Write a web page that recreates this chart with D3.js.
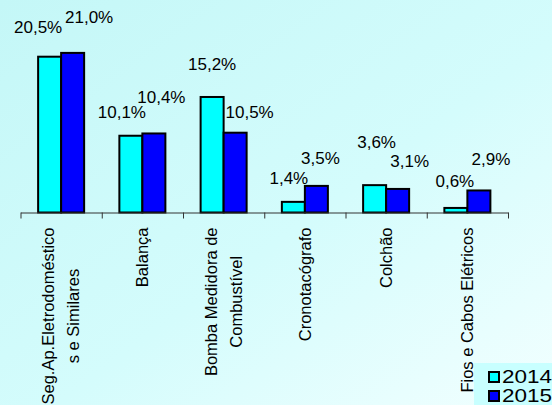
<!DOCTYPE html>
<html>
<head>
<meta charset="utf-8">
<script src="https://cdn.jsdelivr.net/npm/d3@7/dist/d3.min.js"></script>
<style>
html,body{margin:0;padding:0;overflow:hidden;}
svg{display:block;font-family:"Liberation Sans",Arial,sans-serif;}
</style>
</head>
<body>
<svg id="chart" width="552" height="405"></svg>
<script>
// ---- data ----
const categories = ["Seg.Ap.Eletrodoméstico\ns e Similares", "Balança", "Bomba Medidora de\nCombustível", "Cronotacógrafo", "Colchão", "Fios e Cabos Elétricos"];
const seriesNames = ["2014", "2015"];
const values2014 = [20.5, 10.1, 15.2, 1.4, 3.6, 0.6];
const values2015 = [21.0, 10.4, 10.5, 3.5, 3.1, 2.9];
// manual label nudges (as placed in the original chart), [dx, dy above bar top]
const labelNudge2014 = [[-11.5, 24], [-9, 18], [0, 27], [-4.5, 18], [2, 37], [-1, 21]];
const labelNudge2015 = [[16.5, 30], [7.5, 30], [14.5, 15], [4, 22], [12, 22], [12, 25]];

const colors = {"2014": "#00ffff", "2015": "#0000ff"};
const seriesValues = {"2014": values2014, "2015": values2015};
const seriesNudges = {"2014": labelNudge2014, "2015": labelNudge2015};

const W = 552, H = 405;
const svg = d3.select("#chart");

// background gradient
const defs = svg.append("defs");
const grad = defs.append("linearGradient").attr("id", "bg")
  .attr("x1", "0%").attr("y1", "0%").attr("x2", "100%").attr("y2", "100%");
grad.append("stop").attr("offset", "0%").attr("stop-color", "#c4f7f7");
grad.append("stop").attr("offset", "55%").attr("stop-color", "#d4fcfc");
grad.append("stop").attr("offset", "100%").attr("stop-color", "#f2ffff");
svg.append("rect").attr("width", W).attr("height", H).attr("fill", "url(#bg)");

// scales
const plotLeft = 20.5, plotRight = 508, baseY = 212.5;
const x0 = d3.scaleBand().domain(categories).range([plotLeft, plotRight]).paddingInner(0).paddingOuter(0);
const x1 = d3.scaleBand().domain(seriesNames).range([0, x0.bandwidth()]).paddingInner(0).paddingOuter(0.766);
const y = d3.scaleLinear().domain([0, 25]).range([baseY, baseY - 25 * 7.6]);
const xEdge = d3.scaleLinear().domain([0, categories.length]).range([plotLeft, plotRight]);

const fmt = v => d3.format(".1f")(v).replace(".", ",") + "%";

// bars
const g = svg.append("g");
seriesNames.forEach(s => {
  g.selectAll(null).data(categories.map((c, i) => ({c, i, v: seriesValues[s][i]})))
    .enter().append("rect")
    .attr("x", d => x0(d.c) + x1(s))
    .attr("y", d => y(d.v))
    .attr("width", x1.bandwidth())
    .attr("height", d => y(0) - y(d.v))
    .attr("fill", colors[s])
    .attr("stroke", "#000")
    .attr("stroke-width", 2);
});

// axis
const axis = svg.append("g").attr("transform", `translate(0,${baseY})`)
  .call(d3.axisBottom(xEdge).ticks(categories.length).tickFormat("").tickSizeInner(6).tickSizeOuter(0));
axis.select(".domain").attr("stroke", "#333").attr("stroke-width", 1);
axis.selectAll(".tick line").attr("stroke", "#333").attr("stroke-width", 1);

// value labels
seriesNames.forEach(s => {
  svg.selectAll(null).data(categories.map((c, i) => ({c, i, v: seriesValues[s][i]})))
    .enter().append("text")
    .attr("x", d => x0(d.c) + x1(s) + x1.bandwidth() / 2 + seriesNudges[s][d.i][0])
    .attr("y", d => y(d.v) - seriesNudges[s][d.i][1])
    .attr("text-anchor", "middle")
    .attr("font-size", "17px")
    .attr("fill", "#000")
    .text(d => fmt(d.v));
});

// category labels (rotated, multi-line centered)
const labelTop = baseY + 15;
const lineGap = 25;
categories.forEach(c => {
  const lines = c.split("\n");
  const cx = x0(c) + x0.bandwidth() / 2;
  const grp = svg.append("g");
  const texts = lines.map(l => grp.append("text").attr("font-size", "16.5px").attr("fill", "#000")
    .attr("text-anchor", "middle").text(l));
  const maxLen = d3.max(texts, t => t.node().getComputedTextLength());
  const cy = labelTop + maxLen / 2;
  texts.forEach((t, k) => {
    const off = (k - (lines.length - 1) / 2) * lineGap;
    t.attr("transform", `translate(${cx + off},${cy}) rotate(-90)`).attr("dy", "0.35em");
  });
});

// legend
const lg = svg.append("g");
lg.append("rect").attr("x", 474).attr("y", 363).attr("width", 78).attr("height", 42).attr("fill", "#c8ffff");
seriesNames.forEach((s, k) => {
  lg.append("rect").attr("x", 489).attr("y", 372 + k * 19).attr("width", 10).attr("height", 10)
    .attr("fill", colors[s]).attr("stroke", "#000").attr("stroke-width", 2);
  lg.append("text").attr("x", 502).attr("y", 383 + k * 19)
    .attr("font-size", "17.5px").attr("fill", "#000")
    .attr("textLength", 50).attr("lengthAdjust", "spacingAndGlyphs")
    .text(s);
});
</script>
</body>
</html>
